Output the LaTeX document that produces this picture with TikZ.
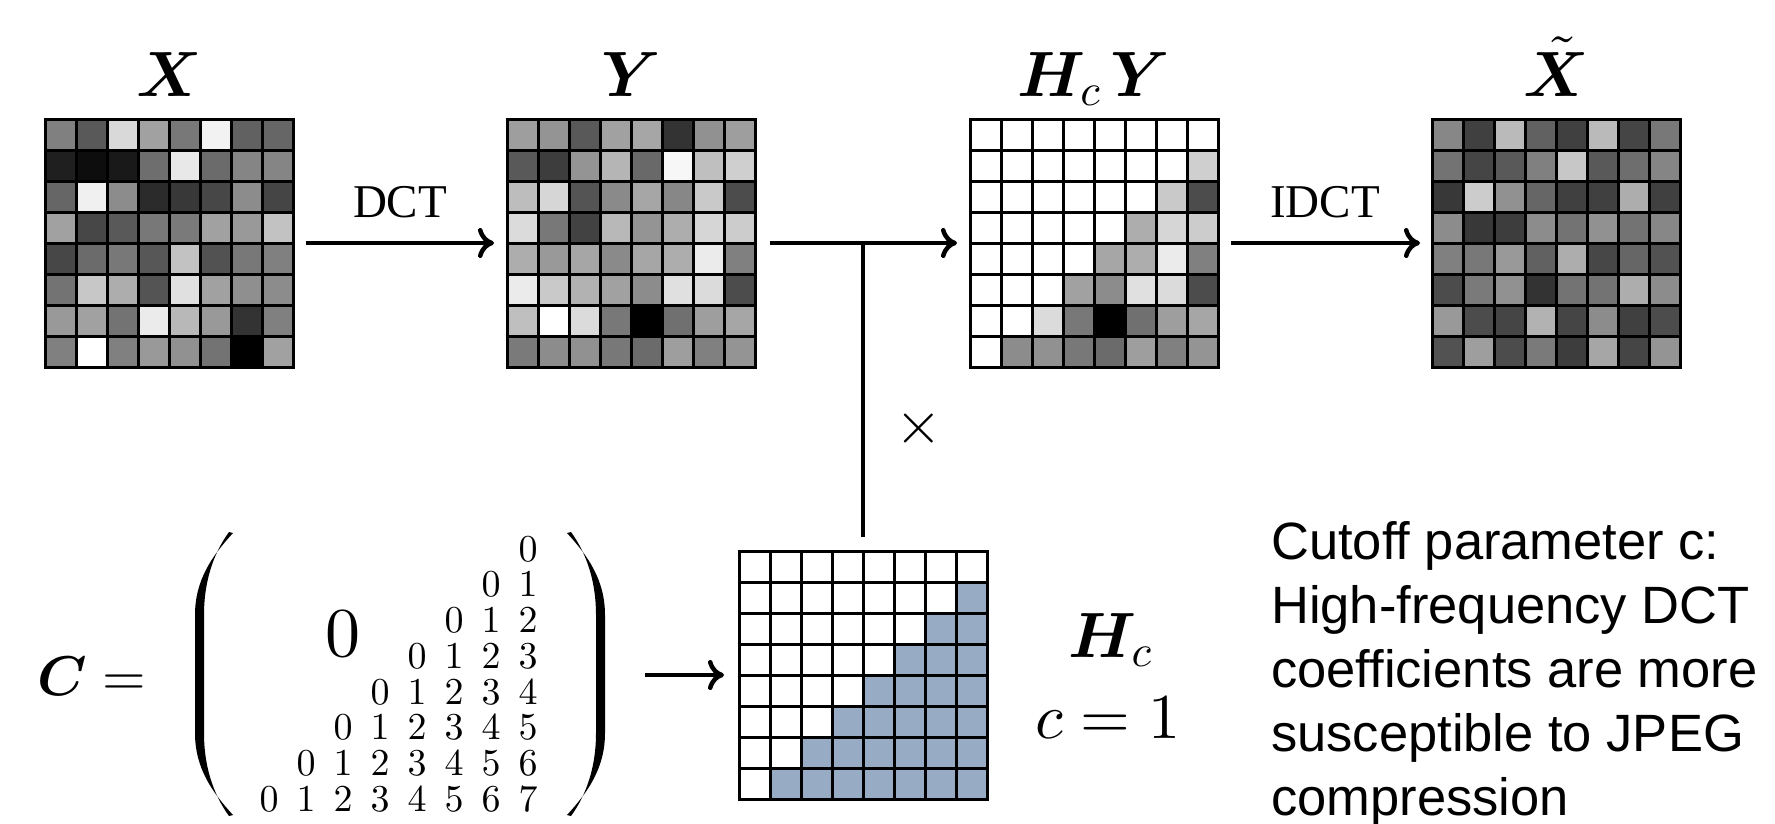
\RequirePackage{fix-cm}
\documentclass[tikz,border=0pt]{standalone}
\usepackage{amsmath,bm}
\usepackage[no-math]{fontspec}
\DeclareFontShape{OT1}{cmr}{m}{n}{<->cmr10}{}
\DeclareFontShape{OML}{cmm}{m}{it}{<->cmmi10}{}
\DeclareFontShape{OML}{cmm}{b}{it}{<->cmmib10}{}
\DeclareFontShape{OMS}{cmsy}{m}{n}{<->cmsy10}{}
\newfontfamily\notefont[Ligatures=CommonOff]{Liberation Sans}
\newfontfamily\opfont{Liberation Serif}
\usetikzlibrary{calc,arrows.meta}
\definecolor{hcblue}{RGB}{151,172,196}
\tikzset{
  gridbox/.style={rectangle, minimum size=248pt, inner sep=0pt, outer sep=0pt},
  gridline/.style={line width=3pt, black},
  conn/.style={line width=4.5pt, -{Computer Modern Rightarrow[length=16pt,width=30pt]}},
  lbl/.style={anchor=base, inner sep=0pt, font=\fontsize{64}{70}\selectfont},
  oplbl/.style={anchor=base, inner sep=0pt, font={\opfont\fontsize{47}{50}\selectfont}},
  dig/.style={inner sep=0pt, font=\fontsize{38}{42}\selectfont},
  notetext/.style={anchor=base west, inner sep=0pt, font={\notefont\fontsize{52.5}{64}\selectfont}},
}
\newcommand{\shadegrid}[3]{%
  \foreach \v [count=\i from 0] in {#3} {
    \pgfmathtruncatemacro\rr{div(\i,8)}
    \pgfmathtruncatemacro\cc{mod(\i,8)}
    \fill[white!\v!#2] ($(#1.north west)+(31*\cc,31*\rr)$) rectangle ++(31,31);
  }
  \foreach \k in {1,...,7} {
    \draw[gridline] ($(#1.north west)+(31*\k,0)$) -- ++(0,248);
    \draw[gridline] ($(#1.north west)+(0,31*\k)$) -- ++(248,0);
  }
  \draw[gridline] (#1.north west) rectangle (#1.south east);
}
\begin{document}
\begin{tikzpicture}[x=1pt,y=-1pt]
\useasboundingbox (0,0) rectangle (1775,823);

% grids
\node[gridbox] (X) at (169,243) {};
\node[gridbox] (Y) at (631,243) {};
\node[gridbox] (HcY) at (1094,243) {};
\node[gridbox] (Xt) at (1556,243) {};
\node[gridbox] (Hc) at (863,675) {};

\shadegrid{X}{black}{50,35,85,63,47,95,38,40,
12,5,10,43,91,42,52,52,
40,94,55,17,22,28,55,27,
63,28,35,47,48,63,60,76,
28,42,47,34,76,32,47,50,
45,78,68,33,88,63,56,55,
60,63,45,92,72,60,20,50,
50,100,50,60,57,45,0,63}

\shadegrid{Y}{black}{62,58,35,63,65,20,57,62,
35,24,58,71,41,97,75,81,
74,84,33,54,65,53,79,30,
86,47,26,72,58,68,84,80,
68,60,65,54,65,68,92,50,
92,79,70,63,55,88,86,30,
75,100,86,47,0,44,62,65,
48,55,57,47,42,62,50,58}

\shadegrid{HcY}{black}{100,100,100,100,100,100,100,100,
100,100,100,100,100,100,100,81,
100,100,100,100,100,100,79,30,
100,100,100,100,100,68,84,80,
100,100,100,100,65,68,92,50,
100,100,100,63,55,88,86,30,
100,100,86,47,0,44,62,65,
100,55,57,47,42,62,50,58}

\shadegrid{Xt}{black}{53,25,73,38,25,73,27,47,
45,27,35,50,78,35,43,52,
22,80,57,40,25,25,68,25,
55,22,24,55,45,57,45,53,
50,47,60,38,68,28,40,32,
30,48,57,20,45,45,68,55,
60,30,27,70,27,55,25,30,
32,62,30,48,24,65,27,58}

\shadegrid{Hc}{hcblue}{100,100,100,100,100,100,100,100,
100,100,100,100,100,100,100,0,
100,100,100,100,100,100,0,0,
100,100,100,100,100,0,0,0,
100,100,100,100,0,0,0,0,
100,100,100,0,0,0,0,0,
100,100,0,0,0,0,0,0,
100,0,0,0,0,0,0,0}

% labels over grids
\node[lbl] (lX) at (169,96) {$\bm{X}$};
\node[lbl] (lY) at (631,96) {$\bm{Y}$};
\node[lbl] (lHcY) at (1094,96) {$\bm{H}_c\,\bm{Y}$};
\node[lbl] (lXt) at (1556,96) {$\tilde{\bm{X}}$};

% connectors
\draw[conn, shorten <=13pt, shorten >=13pt] (X.east) -- (Y.west);
\node[oplbl] (dct) at (400,217) {DCT};
\draw[conn, shorten <=15pt, shorten >=13pt] (Y.east) -- (HcY.west);
\coordinate (J) at (Hc.north |- Y.east);
\draw[line width=4.5pt, shorten <=14pt] (Hc.north) -- (J);
\node[font=\fontsize{60}{66}\selectfont, inner sep=0pt] (times) at (919,428) {$\times$};
\draw[conn, shorten <=13pt, shorten >=12pt] (HcY.east) -- (Xt.west);
\node[oplbl] (idct) at (1325,217) {IDCT};

% C matrix
\node[anchor=base, inner sep=0pt, font=\fontsize{56}{60}\selectfont] (Ceq) at (92,695) {$\bm{C} =$};
\fill (233,533) .. controls (212,556) and (195,580) .. (195,615) -- (195,733)
  .. controls (195,768) and (212,792) .. (233,815) -- (229,816)
  .. controls (213,794) and (204,766) .. (204,733) -- (204,615)
  .. controls (204,582) and (213,554) .. (229,532) -- cycle;
\fill (567,533) .. controls (588,556) and (605,580) .. (605,615) -- (605,733)
  .. controls (605,768) and (588,792) .. (567,815) -- (571,816)
  .. controls (587,794) and (596,766) .. (596,733) -- (596,615)
  .. controls (596,582) and (587,554) .. (571,532) -- cycle;
\node[inner sep=0pt, font=\fontsize{70}{76}\selectfont] (zero) at (343,634) {$0$};
\foreach \r in {0,...,7} {
  \foreach \j in {0,...,\r} {
    \node[dig] (m\r\j) at ({269+37*(7-\r+\j)},{549+35.7*\r}) {$\j$};
  }
}
\coordinate (matout) at (645,675);
\draw[conn, shorten >=15pt] (matout) -- (Hc.west);

% Hc labels
\node[lbl] (lHc) at (1110,657) {$\bm{H}_c$};
\node[lbl] (lc) at (1108,738) {$c = 1$};

% note
\node[notetext] (note) at (1271,559) {\begin{tabular}[t]{@{}l@{}}Cutoff parameter c:\\
High-frequency DCT\\
coefficients are more\\
susceptible to JPEG\\
compression\end{tabular}};
\end{tikzpicture}
\end{document}
